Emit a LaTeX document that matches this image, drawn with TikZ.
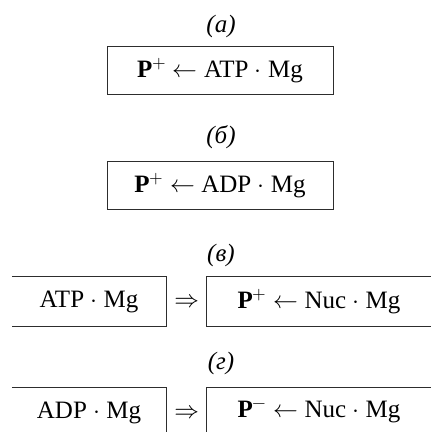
\documentclass[tikz,border=0pt]{standalone}
\usepackage{fontspec}
\usepackage{unicode-math}
\setmainfont{Liberation Serif}
\setmathfont{Latin Modern Math}
\usetikzlibrary{positioning}
\definecolor{inkdark}{RGB}{45,45,45}

\begin{document}
\begin{tikzpicture}[x=1pt,y=1pt,
  fbox/.style={draw=inkdark,line width=1pt,minimum width=226pt,minimum height=48pt,inner sep=0pt,font=\fontsize{25}{30}\selectfont},
  obox/.style={minimum height=49pt,inner sep=0pt,font=\fontsize{25}{30}\selectfont},
  edge/.style={draw=inkdark,line width=1pt},
  lbl/.style={font=\fontsize{25}{30}\selectfont\itshape},
]
  \useasboundingbox (0,0) rectangle (431,432);
  \foreach \n/\y/\t in {la/406/а,lb/295/б,lc/177/в,ld/69/г} {
    \node[lbl] (\n) at (221,\y) {(\t)};
  }
  % (a), (b)
  \node[fbox] (a) at (220,361) {\textbf{P}$^{+}$ $\leftarrow$ ATP $\cdot$ Mg};
  \node[fbox] (b) at (220,246) {\textbf{P}$^{+}$ $\leftarrow$ ADP $\cdot$ Mg};
  % (c)
  \node[obox,minimum width=154pt] (c1) at (89,130.5) {ATP $\cdot$ Mg};
  \node[obox,minimum width=224pt] (c2) at (319,130.5) {\textbf{P}$^{+}$ $\leftarrow$ Nuc $\cdot$ Mg};
  \node[obox] (c3) at (187,130.5) {$\Rightarrow$};
  \draw[edge] (c1.north west) -- (c1.north east) -- (c1.south east) -- (c1.south west);
  \draw[edge] (c2.north east) -- (c2.north west) -- (c2.south west) -- (c2.south east);
  % (d)
  \node[obox,minimum width=154pt] (d1) at (89,19.5) {ADP $\cdot$ Mg};
  \node[obox,minimum width=224pt] (d2) at (319,19.5) {\textbf{P}$^{-}$ $\leftarrow$ Nuc $\cdot$ Mg};
  \node[obox] (d3) at (187,19.5) {$\Rightarrow$};
  \draw[edge] (d1.north west) -- (d1.north east) -- (d1.south east);
  \draw[edge] (d2.north east) -- (d2.north west) -- (d2.south west);
\end{tikzpicture}
\end{document}
